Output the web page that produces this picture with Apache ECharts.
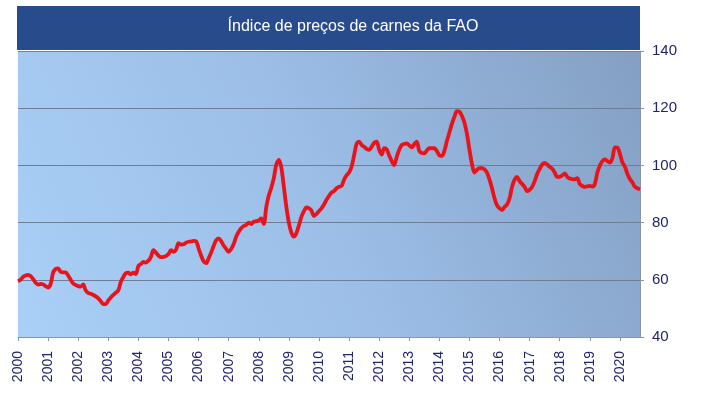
<!DOCTYPE html>
<html><head><meta charset="utf-8">
<script src="https://cdn.jsdelivr.net/npm/echarts@6/dist/echarts.min.js"></script>
<style>html,body{margin:0;padding:0;background:#fff}#c{width:706px;height:396px}</style>
</head><body><div id="c"></div>
<script>
const titleText = 'Índice de preços de carnes da FAO';
const startYear = 2000;
const yTicks = [40, 60, 80, 100, 120, 140];
const v2000 = [59.5,60.0,61.0,61.5,61.7,61.3,60.3,59.0,58.3,58.6,58.4,57.8];
const v2001 = [57.3,58.5,62.5,63.8,64.0,62.8,62.6,62.6,61.5,60.0,58.7,58.2];
const v2002 = [57.8,57.6,58.4,56.3,55.4,55.1,54.7,54.2,53.5,52.5,51.5,51.5];
const v2003 = [52.8,53.8,54.7,55.5,56.3,59.3,61.0,62.3,62.5,61.9,62.5,62.0];
const v2004 = [64.8,65.5,66.3,66.0,66.7,68.0,70.4,69.5,68.5,67.9,68.0,68.3];
const v2005 = [69.0,70.4,69.8,70.5,72.8,72.3,72.4,73.0,73.3,73.4,73.6,73.5];
const v2006 = [71.0,68.5,66.5,65.8,67.5,69.5,71.8,73.8,74.5,73.5,72.0,70.8];
const v2007 = [69.8,70.8,72.5,75.1,76.8,78.0,78.8,79.2,80.0,79.5,80.3,80.5];
const v2008 = [80.8,81.5,79.5,85.5,89.5,92.2,95.5,100.4,101.9,99.2,92.5,85.5];
const v2009 = [80.0,76.5,75.1,76.3,79.0,82.0,84.0,85.3,85.0,84.2,82.3,83.0];
const v2010 = [84.0,85.0,86.3,88.0,89.3,90.5,91.0,92.0,92.5,92.8,95.0,96.5];
const v2011 = [97.5,99.5,103.5,107.5,108.3,107.2,106.5,105.8,105.4,106.5,107.9,108.3];
const v2012 = [105.5,103.8,106.0,105.6,103.5,101.5,100.1,103.0,105.5,107.1,107.5,107.7];
const v2013 = [107.0,106.3,107.5,108.3,105.0,104.3,104.2,105.2,106.0,106.0,106.0,105.0];
const v2014 = [103.5,103.3,105.0,108.5,111.5,114.5,117.0,119.0,118.8,117.3,115.0,111.0];
const v2015 = [105.5,100.5,97.5,98.5,99.0,99.0,98.6,97.5,95.0,92.0,88.5,86.0];
const v2016 = [85.0,84.4,85.5,86.3,88.5,92.5,95.0,96.0,94.5,93.5,92.5,91.0];
const v2017 = [91.5,92.5,94.5,97.0,98.8,100.3,100.9,100.3,99.5,98.8,97.5,96.0];
const v2018 = [96.0,96.5,97.2,96.0,95.4,95.2,95.1,95.5,93.5,92.8,92.5,92.7];
const v2019 = [92.8,92.6,93.5,97.5,100.0,101.5,102.1,101.5,101.0,102.5,106.3,106.2];
const v2020 = [104.0,101.0,99.5,97.0,95.2,94.0,92.5,92.0,91.6];

const monthly = [].concat(v2000,v2001,v2002,v2003,v2004,v2005,v2006,v2007,v2008,v2009,v2010,
  v2011,v2012,v2013,v2014,v2015,v2016,v2017,v2018,v2019,v2020);
const seriesData = monthly.map((v, i) => [startYear + i / 12, v]);
const xMax = startYear + (monthly.length - 1) / 12;

const chart = echarts.init(document.getElementById('c'), null, {renderer: 'canvas'});
chart.setOption({
  animation: false,
  grid: {
    left: 18, right: 66, top: 51, bottom: 59, show: true, borderWidth: 0,
    backgroundColor: {type: 'linear', x: 0, y: 1, x2: 1, y2: 0,
      colorStops: [{offset: 0, color: '#aad0f7'}, {offset: 0.5, color: '#9bbde6'}, {offset: 1, color: '#849fc3'}]}
  },
  graphic: [
    {type: 'rect', left: 17, top: 6, shape: {width: 623, height: 44}, style: {fill: '#284b8b'}, z: 10},
    {type: 'text', left: 'center', top: 19, x: 0, style: {text: titleText, fill: '#ffffff',
      font: '16px "Liberation Sans", Arial, sans-serif', textAlign: 'center'}, z: 11}
  ],
  xAxis: {
    type: 'value', min: startYear, max: xMax, interval: 1,
    axisLine: {show: true, lineStyle: {color: '#8a96a6', width: 1}},
    axisTick: {show: true, length: 4, lineStyle: {color: '#8a96a6'}},
    splitLine: {show: false},
    axisLabel: {rotate: 90, margin: 14, color: '#22246a', fontSize: 14,
      fontFamily: '"Liberation Sans", Arial, sans-serif', showMaxLabel: false,
      formatter: v => (Math.abs(v - Math.round(v)) < 1e-6 ? String(Math.round(v)) : '')}
  },
  yAxis: {
    type: 'value', position: 'right', min: yTicks[0], max: yTicks[yTicks.length - 1], interval: 20,
    axisLine: {show: true, lineStyle: {color: '#8a96a6', width: 1}},
    axisTick: {show: true, length: 4, lineStyle: {color: '#8a96a6'}},
    splitLine: {show: true, lineStyle: {color: '#6e7e94', width: 1}},
    axisLabel: {margin: 12, color: '#22246a', fontSize: 15,
      fontFamily: '"Liberation Sans", Arial, sans-serif'}
  },
  series: [{
    type: 'line', data: seriesData, showSymbol: false, smooth: 0.3,
    lineStyle: {color: '#e8131b', width: 3.8}, z: 5
  }]
});
</script></body></html>
